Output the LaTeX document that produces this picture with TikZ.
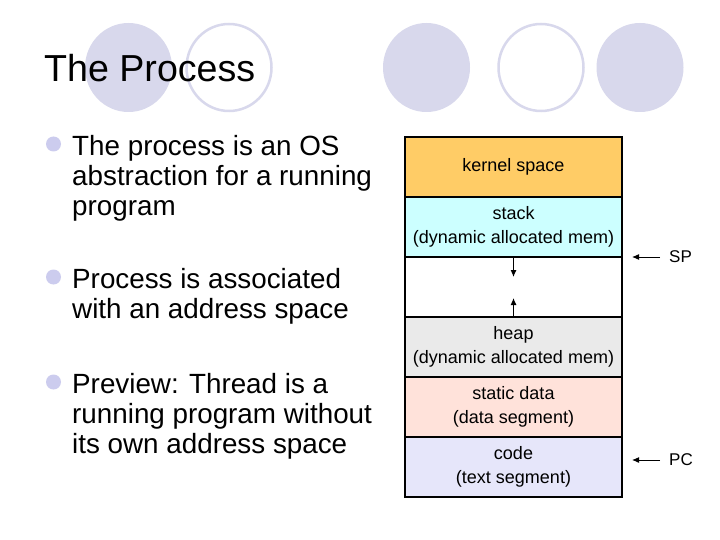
\documentclass[tikz,border=0pt]{standalone}
\usepackage{fontspec}
\setmainfont{Liberation Sans}
\usepackage{xcolor}
\usepackage{tikz}
\usetikzlibrary{arrows.meta, positioning}
\definecolor{lavender}{RGB}{216,216,236}
\definecolor{bulletblue}{RGB}{204,204,238}
\definecolor{kernelorange}{RGB}{255,204,102}
\definecolor{stackcyan}{RGB}{204,255,255}
\definecolor{heapgray}{RGB}{234,234,234}
\definecolor{staticpink}{RGB}{255,226,218}
\definecolor{codeblue}{RGB}{230,230,250}
\tikzstyle{segment} = [rectangle, draw, line width=1.5pt, minimum width=217pt, minimum height=60pt, outer sep=0pt, align=center, font=\fontsize{18}{24}\selectfont]
\tikzstyle{bullettext} = [anchor=base west, align=left, inner sep=0pt, font=\fontsize{27.8}{30}\selectfont]
\tikzstyle{tag} = [inner xsep=9pt, inner ysep=2pt, font=\fontsize{17}{20}\selectfont]
\tikzstyle{tip} = [-{Latex[length=7pt, width=6pt]}, line width=1pt]

\begin{document}
\begin{tikzpicture}[x=1pt, y=-1pt]
    \useasboundingbox[fill=white] (0,0) rectangle (720,540);

    % Decorative circles of the slide
    \fill[lavender] (128.5,67.5) ellipse (43.5 and 44.5);
    \draw[lavender, line width=2.5pt, fill=white] (229,67.5) ellipse (42.5 and 43.5);
    \fill[lavender] (426.5,67.5) ellipse (43.5 and 44.5);
    \draw[lavender, line width=2.5pt, fill=white] (541,67.5) ellipse (42.5 and 43.5);
    \fill[lavender] (640,67.5) ellipse (43.5 and 44.5);

    % Title
    \node[anchor=base west, inner sep=0pt, font=\fontsize{37.6}{45}\selectfont] (title) at (44,82) {The Process};

    % Bullets (anchored at the baseline of their last line)
    \fill[bulletblue] (53.5,144) circle (7.5);
    \node[bullettext] (point1) at (72,215) {The process is an OS\\abstraction for a running\\program};
    \fill[bulletblue] (53.5,277) circle (7.5);
    \node[bullettext] (point2) at (72,318) {Process is associated\\with an address space};
    \fill[bulletblue] (53.5,382) circle (7.5);
    \node[bullettext] (point3) at (72,453) {Preview: Thread is a\\running program without\\its own address space};

    % Address space
    \node[segment, fill=kernelorange] (kernel) at (513.5,167) {kernel space};
    \node[segment, fill=stackcyan, below=0pt of kernel] (stack) {stack\\(dynamic allocated mem)};
    \node[segment, fill=white, below=0pt of stack] (free) {};
    \node[segment, fill=heapgray, below=0pt of free] (heap) {heap\\(dynamic allocated mem)};
    \node[segment, fill=staticpink, below=0pt of heap] (static) {static data\\(data segment)};
    \node[segment, fill=codeblue, below=0pt of static] (code) {code\\(text segment)};

    % Growth arrows
    \coordinate[below=20pt of stack.south] (downtip);
    \coordinate[above=19pt of heap.north] (uptip);
    \draw[tip] (stack.south) -- (downtip);
    \draw[tip] (heap.north) -- (uptip);

    % Registers
    \coordinate[right=10pt of stack.south east] (sptip);
    \node[tag, right=28pt of sptip] (sp) {SP};
    \draw[tip] (sp) -- (sptip);
    \coordinate (pctip) at ([xshift=10pt, yshift=7pt]code.east);
    \node[tag, right=28pt of pctip] (pc) {PC};
    \draw[tip] (pc) -- (pctip);

\end{tikzpicture}
\end{document}
